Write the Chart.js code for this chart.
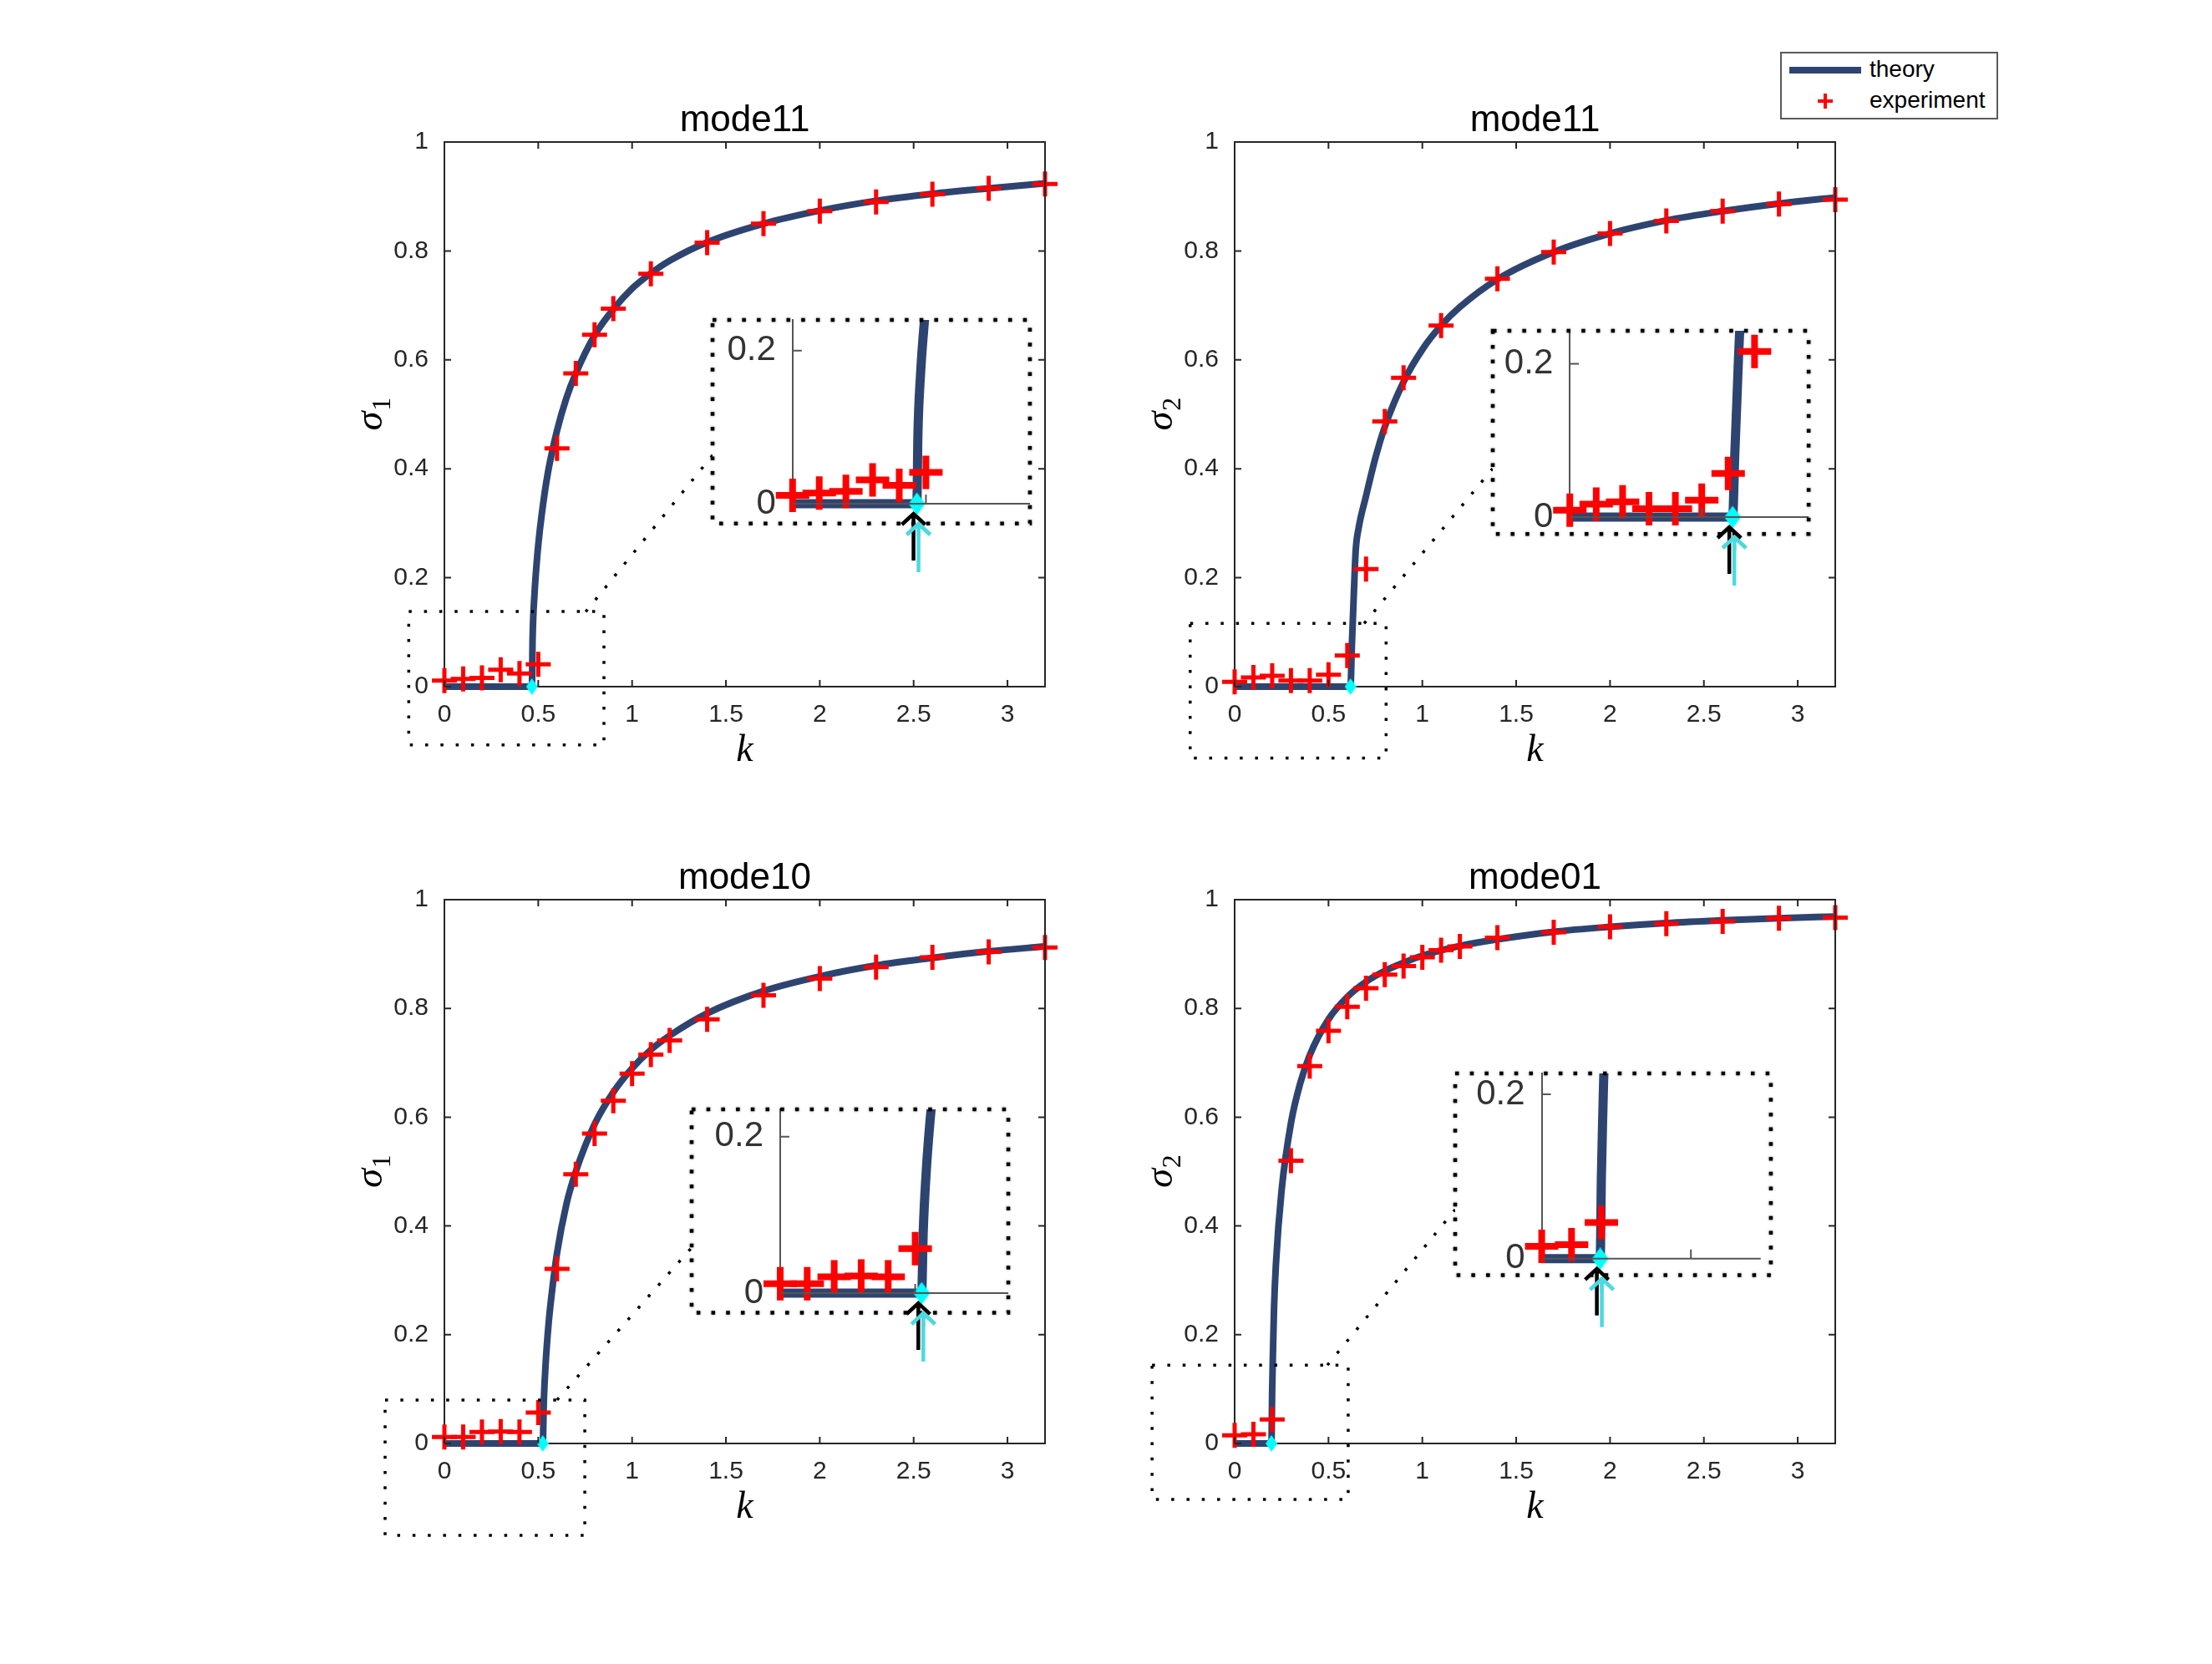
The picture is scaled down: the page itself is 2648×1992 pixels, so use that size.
<!DOCTYPE html>
<html>
<head>
<meta charset="utf-8">
<title>sigma vs k</title>
<script src="https://cdn.jsdelivr.net/npm/chart.js@4.4.1/dist/chart.umd.min.js"></script>
<style>
  html, body { margin: 0; padding: 0; background: #fff; }
  #fig { position: relative; width: 2648px; height: 1992px; background: #fff; overflow: hidden; }
  #fig canvas { position: absolute; }
  #legend { position: absolute; left: 2131px; top: 62px; width: 257px; height: 77px; border: 2px solid #5a5a5a;
            background: #fff; font: 28px 'Liberation Sans', Arial, sans-serif; line-height: 28px; color: #000; z-index: 5; }
  #legend .sw { position: absolute; left: 9px; top: 16px; width: 86px; height: 8px; background: #2e4470; }
  #legend .lt { position: absolute; left: 105px; white-space: nowrap; }
  #legend .ph { position: absolute; left: 43px; top: 55px; width: 18px; height: 4px; background: #ff0000; }
  #legend .pv { position: absolute; left: 50px; top: 48px; width: 4px; height: 18px; background: #ff0000; }
</style>
</head>
<body>
<div id="fig">
  <div id="legend">
    <div class="sw"></div><span class="lt" style="top:5px">theory</span>
    <div class="ph"></div><div class="pv"></div><span class="lt" style="top:42px">experiment</span>
  </div>
</div>
<script>
// ---- data ----
const titles = ['mode11', 'mode11', 'mode10', 'mode01']
const ySubs = ['1', '2', '1', '2']
const xTicks = [0, 0.5, 1, 1.5, 2, 2.5, 3]
const yTicks = [0, 0.2, 0.4, 0.6, 0.8, 1]
const insetYTicks = [0, 0.2]
const insetXTicks = [0.5]

// cut-off wavenumber (cyan diamond)
const kCrit = [0.466, 0.617, 0.524, 0.196]

// theory curves
const k1Theory = [0, 0.466, 0.47, 0.48, 0.49, 0.5, 0.52, 0.55, 0.6, 0.65, 0.7, 0.8, 0.9, 1.0, 1.1, 1.2, 1.4, 1.7, 2.0, 2.3, 2.6, 2.9, 3.2]
const s1Theory = [0, 0, 0.09, 0.17, 0.22, 0.26, 0.32, 0.39, 0.47, 0.53, 0.575, 0.645, 0.693, 0.731, 0.759, 0.782, 0.816, 0.85, 0.874, 0.892, 0.905, 0.915, 0.924]
const k2Theory = [0, 0.617, 0.625, 0.635, 0.645, 0.66, 0.7, 0.75, 0.8, 0.9, 1.0, 1.1, 1.2, 1.4, 1.7, 2.0, 2.3, 2.6, 2.9, 3.2]
const s2Theory = [0, 0, 0.08, 0.17, 0.25, 0.29, 0.35, 0.42, 0.477, 0.56, 0.619, 0.663, 0.697, 0.748, 0.798, 0.832, 0.856, 0.873, 0.887, 0.898]
const k3Theory = [0, 0.524, 0.53, 0.54, 0.555, 0.57, 0.6, 0.65, 0.7, 0.8, 0.9, 1.0, 1.1, 1.2, 1.4, 1.7, 2.0, 2.3, 2.6, 2.9, 3.2]
const s3Theory = [0, 0, 0.08, 0.15, 0.22, 0.27, 0.35, 0.44, 0.50, 0.587, 0.646, 0.69, 0.724, 0.75, 0.791, 0.832, 0.859, 0.879, 0.893, 0.905, 0.914]
const k4Theory = [0, 0.196, 0.2, 0.205, 0.21, 0.22, 0.25, 0.3, 0.35, 0.4, 0.5, 0.6, 0.7, 0.8, 0.9, 1.0, 1.2, 1.4, 1.7, 2.0, 2.3, 2.6, 2.9, 3.2]
const s4Theory = [0, 0, 0.1, 0.18, 0.25, 0.33, 0.465, 0.589, 0.663, 0.714, 0.78, 0.821, 0.849, 0.869, 0.884, 0.897, 0.915, 0.927, 0.941, 0.95, 0.957, 0.962, 0.966, 0.969]

// experiment points
const k1Exp = [0, 0.1, 0.2, 0.3, 0.4, 0.5, 0.6, 0.7, 0.8, 0.9, 1.1, 1.4, 1.7, 2.0, 2.3, 2.6, 2.9, 3.2]
const s1Exp = [0.011, 0.014, 0.016, 0.031, 0.024, 0.041, 0.4375, 0.575, 0.646, 0.694, 0.758, 0.815, 0.85, 0.873, 0.89, 0.904, 0.915, 0.923]
const k2Exp = [0, 0.1, 0.2, 0.3, 0.4, 0.5, 0.6, 0.7, 0.8, 0.9, 1.1, 1.4, 1.7, 2.0, 2.3, 2.6, 2.9, 3.2]
const s2Exp = [0.009, 0.017, 0.02, 0.011, 0.011, 0.022, 0.057, 0.216, 0.487, 0.567, 0.663, 0.749, 0.798, 0.832, 0.855, 0.873, 0.886, 0.894]
const k3Exp = [0, 0.1, 0.2, 0.3, 0.4, 0.5, 0.6, 0.7, 0.8, 0.9, 1.0, 1.1, 1.2, 1.4, 1.7, 2.0, 2.3, 2.6, 2.9, 3.2]
const s3Exp = [0.012, 0.012, 0.021, 0.022, 0.021, 0.057, 0.321, 0.495, 0.57, 0.63, 0.68, 0.715, 0.741, 0.78, 0.824, 0.855, 0.876, 0.894, 0.904, 0.912]
const k4Exp = [0, 0.1, 0.2, 0.3, 0.4, 0.5, 0.6, 0.7, 0.8, 0.9, 1.0, 1.1, 1.2, 1.4, 1.7, 2.0, 2.3, 2.6, 2.9, 3.2]
const s4Exp = [0.015, 0.017, 0.044, 0.52, 0.694, 0.759, 0.803, 0.837, 0.862, 0.878, 0.894, 0.907, 0.914, 0.93, 0.94, 0.95, 0.956, 0.96, 0.966, 0.967]

const theoryK = [k1Theory, k2Theory, k3Theory, k4Theory]
const theoryS = [s1Theory, s2Theory, s3Theory, s4Theory]
const expK = [k1Exp, k2Exp, k3Exp, k4Exp]
const expS = [s1Exp, s2Exp, s3Exp, s4Exp]

// ---- layout (page pixels / data coords of each axes) ----
const axesRects = [[532, 170, 1251, 822], [1478, 170, 2197, 822], [532, 1077, 1251, 1728], [1478, 1077, 2197, 1728]]
// zoom source box [x1, x2, y1, y2] in axes data coords
const sourceBoxes = [[-0.19, 0.85, -0.107, 0.138], [-0.237, 0.807, -0.131, 0.116], [-0.316, 0.748, -0.169, 0.08], [-0.44, 0.605, -0.103, 0.144]]
// dotted link line [x1, y1, x2, y2]
const linkLines = [[0.753, 0.1375, 1.429, 0.425], [0.69, 0.116, 1.374, 0.40], [0.60, 0.08, 1.317, 0.36], [0.494, 0.144, 1.175, 0.43]]
// inset frame in axes data coords and the range it shows
const insetBoxes = [[1.429, 3.12, 0.30, 0.674], [1.374, 3.057, 0.28, 0.653], [1.317, 3.004, 0.24, 0.614], [1.175, 2.857, 0.309, 0.68]]
const insetRanges = [[-0.30, 0.89, -0.026, 0.24], [-0.292, 0.905, -0.022, 0.243], [-0.328, 0.845, -0.025, 0.235], [-0.29, 0.768, -0.02, 0.2255]]
// where the inset x axis line stops (inset data coords)
const insetAxisEnd = [0.89, 0.905, 0.845, 0.734]

const NAVY = '#2e4470'
const RED = '#ff0000'
const CYAN = '#00ffff'
const AXIS = '#262626'
const SANS = "'Liberation Sans', Arial, sans-serif"
const SERIF = "'Liberation Serif', 'DejaVu Serif', serif"

const fig = document.getElementById('fig')

function addCanvas(l, t, w, h) {
  const c = document.createElement('canvas')
  c.width = w
  c.height = h
  c.style.left = l + 'px'
  c.style.top = t + 'px'
  c.style.width = w + 'px'
  c.style.height = h + 'px'
  fig.appendChild(c)
  return c
}

function diamond(w, h) {
  const c = document.createElement('canvas')
  c.width = w
  c.height = h
  const g = c.getContext('2d')
  g.fillStyle = CYAN
  g.beginPath()
  g.moveTo(w / 2, 0)
  g.lineTo(w, h / 2)
  g.lineTo(w / 2, h)
  g.lineTo(0, h / 2)
  g.closePath()
  g.fill()
  return c
}

const pts = (ks, ss) => ks.map((k, j) => ({ x: k, y: ss[j] }))

function dotted(ctx, w, gap) {
  ctx.setLineDash([w, gap])
  ctx.lineWidth = w
  ctx.strokeStyle = '#000'
}

// keep label overflow from pushing the plot area around
function noPad(s) {
  s.paddingTop = 0
  s.paddingBottom = 0
  s.paddingLeft = 0
  s.paddingRight = 0
}

function framePlugin(i) {
  return {
    id: 'frame' + i,
    afterDraw(chart) {
      const { ctx, chartArea: a } = chart
      const X = v => chart.scales.x.getPixelForValue(v)
      const Y = v => chart.scales.y.getPixelForValue(v)
      ctx.save()
      ctx.strokeStyle = AXIS
      ctx.lineWidth = 2
      ctx.beginPath()
      ctx.moveTo(a.left, a.top)
      ctx.lineTo(a.right, a.top)
      ctx.lineTo(a.right, a.bottom)
      xTicks.forEach(v => {
        const p = X(v)
        ctx.moveTo(p, a.bottom); ctx.lineTo(p, a.bottom - 8)
        ctx.moveTo(p, a.top); ctx.lineTo(p, a.top + 8)
      })
      yTicks.forEach(v => {
        const p = Y(v)
        ctx.moveTo(a.left, p); ctx.lineTo(a.left + 8, p)
        ctx.moveTo(a.right, p); ctx.lineTo(a.right - 8, p)
      })
      ctx.stroke()

      // title and axis labels
      const cx = (a.left + a.right) / 2
      ctx.fillStyle = '#000'
      ctx.textAlign = 'center'
      ctx.textBaseline = 'alphabetic'
      ctx.font = '44px ' + SANS
      ctx.fillText(titles[i], cx, a.top - 13)
      ctx.font = 'italic 46px ' + SERIF
      ctx.textBaseline = 'middle'
      ctx.fillText('k', cx, a.bottom + 77)

      ctx.save()
      ctx.translate(a.left - 85, (a.top + a.bottom) / 2)
      ctx.rotate(-Math.PI / 2)
      ctx.textAlign = 'left'
      ctx.textBaseline = 'alphabetic'
      ctx.font = 'italic 46px ' + SERIF
      const w1 = ctx.measureText('σ').width
      ctx.font = '32px ' + SERIF
      const w2 = ctx.measureText(ySubs[i]).width
      const x0 = -(w1 + w2) / 2
      ctx.font = 'italic 46px ' + SERIF
      ctx.fillText('σ', x0, 10)
      ctx.font = '32px ' + SERIF
      ctx.fillText(ySubs[i], x0 + w1 + 1, 20)
      ctx.restore()

      // zoom box and link line
      dotted(ctx, 3.5, 14.8)
      const sb = sourceBoxes[i]
      ctx.strokeRect(X(sb[0]), Y(sb[3]), X(sb[1]) - X(sb[0]), Y(sb[2]) - Y(sb[3]))
      const ln = linkLines[i]
      ctx.beginPath()
      ctx.moveTo(X(ln[0]), Y(ln[1]))
      ctx.lineTo(X(ln[2]), Y(ln[3]))
      ctx.stroke()
      ctx.restore()
    }
  }
}

function arrow(ctx, x, tip, bottom, color) {
  ctx.strokeStyle = color
  ctx.lineWidth = 4.5
  ctx.beginPath()
  ctx.moveTo(x, bottom); ctx.lineTo(x, tip)
  ctx.moveTo(x - 14, tip + 13); ctx.lineTo(x, tip); ctx.lineTo(x + 14, tip + 13)
  ctx.stroke()
}

function insetPlugin(i, bw, bh, m) {
  return {
    id: 'inset' + i,
    beforeDraw(chart) {
      const ctx = chart.ctx
      ctx.save()
      ctx.fillStyle = '#fff'
      ctx.fillRect(m, m, bw, bh)
      ctx.restore()
    },
    afterDraw(chart) {
      const { ctx, chartArea: a } = chart
      const X = v => chart.scales.x.getPixelForValue(v)
      const Y = v => chart.scales.y.getPixelForValue(v)
      ctx.save()
      ctx.strokeStyle = '#555'
      ctx.lineWidth = 2
      ctx.beginPath()
      ctx.moveTo(a.left, a.bottom)
      ctx.lineTo(X(insetAxisEnd[i]), a.bottom)
      insetYTicks.forEach(v => { if (v > 0) { ctx.moveTo(a.left, Y(v)); ctx.lineTo(a.left + 11, Y(v)) } })
      insetXTicks.forEach(v => { ctx.moveTo(X(v), a.bottom); ctx.lineTo(X(v), a.bottom - 11) })
      ctx.stroke()

      ctx.save()
      ctx.shadowColor = 'rgba(0,0,0,0.45)'
      ctx.shadowBlur = 3
      dotted(ctx, 4.5, 13.2)
      ctx.strokeRect(m, m, bw, bh)
      ctx.restore()

      ctx.setLineDash([])
      const px = X(kCrit[i]), py = Y(0)
      arrow(ctx, px + 2, py + 24, py + 82, '#4dd9e0')
      arrow(ctx, px - 4, py + 12, py + 68, '#000')
      arrow(ctx, px + 2, py + 24, py + 40, '#4dd9e0')
      ctx.restore()
    }
  }
}

const mainDiamond = diamond(14, 20)
const insetDiamond = diamond(20, 27)

const charts = axesRects.map((r, i) => {
  const [L, T, R, B] = r
  const left = L - 200, top = T - 130
  const w = (R - L) + 320, h = (B - T) + 330
  const canvas = addCanvas(left, top, w, h)
  const chart = new Chart(canvas, {
    type: 'scatter',
    data: {
      datasets: [
        { label: 'cut-off', data: [{ x: kCrit[i], y: 0 }], pointStyle: mainDiamond, pointRadius: 8, showLine: false, clip: false },
        { label: 'experiment', data: pts(expK[i], expS[i]), pointStyle: 'cross', pointRadius: 15,
          borderColor: RED, backgroundColor: RED, borderWidth: 5, showLine: false, clip: false },
        { label: 'theory', data: pts(theoryK[i], theoryS[i]), showLine: true, borderColor: NAVY, backgroundColor: NAVY,
          borderWidth: 8, pointRadius: 0, cubicInterpolationMode: 'monotone', fill: false, clip: false }
      ]
    },
    options: {
      responsive: false,
      animation: false,
      devicePixelRatio: 1,
      events: [],
      layout: { padding: { left: 100, top: 130, right: 120, bottom: 140 } },
      plugins: { legend: { display: false }, tooltip: { enabled: false } },
      scales: {
        x: {
          type: 'linear', min: 0, max: 3.2,
          afterBuildTicks: s => { s.ticks = xTicks.map(v => ({ value: v })) },
          afterFit: s => { s.height = 60; noPad(s) },
          grid: { display: false, drawTicks: false },
          border: { display: true, color: AXIS, width: 2 },
          ticks: { font: { family: SANS, size: 30 }, color: AXIS, padding: 16, maxRotation: 0, autoSkip: false, callback: v => String(v) }
        },
        y: {
          type: 'linear', min: 0, max: 1,
          afterBuildTicks: s => { s.ticks = yTicks.map(v => ({ value: v })) },
          afterFit: s => { s.width = 100; noPad(s) },
          grid: { display: false, drawTicks: false },
          border: { display: true, color: AXIS, width: 2 },
          ticks: { font: { family: SANS, size: 30 }, color: AXIS, padding: 19, autoSkip: false, callback: v => String(v) }
        }
      }
    },
    plugins: [framePlugin(i)]
  })
  return { chart, left, top }
})

// insets, placed through the main axes scales
charts.forEach(({ chart, left, top }, i) => {
  const box = insetBoxes[i], rng = insetRanges[i]
  const xs = chart.scales.x, ys = chart.scales.y
  const bl = left + xs.getPixelForValue(box[0])
  const br = left + xs.getPixelForValue(box[1])
  const bt = top + ys.getPixelForValue(box[3])
  const bb = top + ys.getPixelForValue(box[2])
  const bw = br - bl, bh = bb - bt
  const ax = (0 - rng[0]) / (rng[1] - rng[0]) * bw
  const ay = (rng[3] - 0) / (rng[3] - rng[2]) * bh
  const m = 60
  const cw = Math.ceil(bw + 2 * m), ch = Math.ceil(bh + m + 110)
  const canvas = addCanvas(bl - m, bt - m, cw, ch)
  const clipIn = { left: 40, top: 0, right: 0, bottom: 40 }
  new Chart(canvas, {
    type: 'scatter',
    data: {
      datasets: [
        { label: 'cut-off', data: [{ x: kCrit[i], y: 0 }], pointStyle: insetDiamond, pointRadius: 11, showLine: false, clip: false },
        { label: 'experiment', data: pts(expK[i], expS[i]), pointStyle: 'cross', pointRadius: 20,
          borderColor: RED, backgroundColor: RED, borderWidth: 8, showLine: false, clip: clipIn },
        { label: 'theory', data: pts(theoryK[i], theoryS[i]), showLine: true, borderColor: NAVY, backgroundColor: NAVY,
          borderWidth: 11, pointRadius: 0, cubicInterpolationMode: 'monotone', fill: false, clip: clipIn }
      ]
    },
    options: {
      responsive: false,
      animation: false,
      devicePixelRatio: 1,
      events: [],
      layout: { padding: { left: m, top: m, right: cw - m - bw, bottom: ch - m - ay } },
      plugins: { legend: { display: false }, tooltip: { enabled: false } },
      scales: {
        x: {
          type: 'linear', min: 0, max: rng[1],
          afterBuildTicks: s => { s.ticks = insetXTicks.map(v => ({ value: v })) },
          afterFit: s => { s.height = 0; noPad(s) },
          grid: { display: false, drawTicks: false },
          border: { display: false },
          ticks: { display: false }
        },
        y: {
          type: 'linear', min: 0, max: rng[3],
          afterBuildTicks: s => { s.ticks = insetYTicks.map(v => ({ value: v })) },
          afterFit: s => { s.width = ax; noPad(s) },
          grid: { display: false, drawTicks: false },
          border: { display: true, color: '#555', width: 2 },
          ticks: { font: { family: SANS, size: 42 }, color: '#333', padding: 20, autoSkip: false, callback: v => String(v) }
        }
      }
    },
    plugins: [insetPlugin(i, bw, bh, m)]
  })
})
</script>
</body>
</html>
